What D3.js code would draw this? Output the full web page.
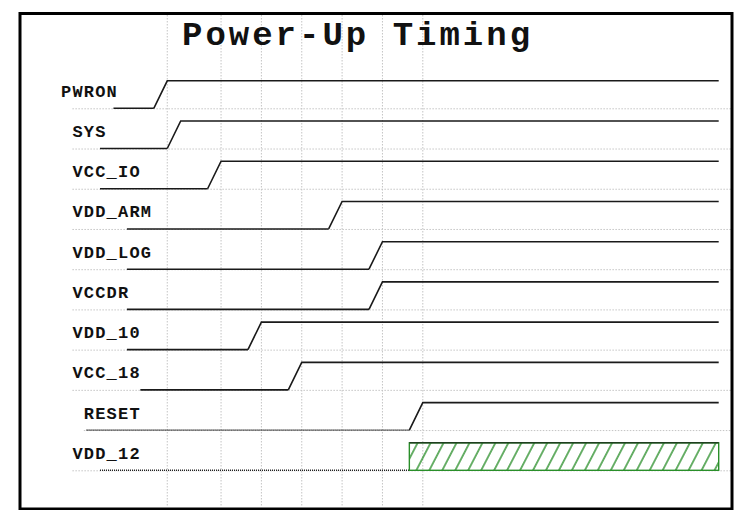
<!DOCTYPE html>
<html>
<head>
<meta charset="utf-8">
<script src="https://cdn.jsdelivr.net/npm/d3@7"></script>
<style>
  html, body { margin: 0; padding: 0; background: #fff; }
  svg { display: block; }
  text { white-space: pre; }
</style>
</head>
<body>
<div id="chart"></div>
<script>
// ---- data ----
const title = "Power-Up Timing";
const labels = ["PWRON", " SYS", " VCC_IO", " VDD_ARM", " VDD_LOG", " VCCDR", " VDD_10", " VCC_18", "  RESET", " VDD_12"];
const lowStart  = [1, 0, 0, 2, 2, 2, 2, 3, -1, 0];
const riseStart = [4, 5, 8, 17, 20, 20, 11, 14, 23, 23];
const riseEnd   = [5, 6, 9, 18, 21, 21, 12, 15, 24, 23];
const lowDefined = [true, true, true, true, true, true, true, true, false, false];
const highKnown  = [true, true, true, true, true, true, true, true, true, false];
const endTime = 46;
const gridTimes = [5, 9, 12, 15, 18, 21, 24];

// ---- layout ----
const W = 742, H = 510;
const svg = d3.select("#chart").append("svg").attr("width", W).attr("height", H);

const x = d3.scaleLinear().domain([0, endTime]).range([100, 718.7]);
const y = d3.scalePoint().domain(d3.range(labels.length)).range([108.3, 470.3]);
const lvl = d3.scaleLinear().domain([0, 1]).range([0, -27.5]);

const labelX = 61, labelFs = 17, labelLs = 1.2;
const adv = 0.6 * labelFs + labelLs;
const gridRight = 731;
const fontFam = "'Courier New', 'Liberation Mono', monospace";

const defs = svg.append("defs");
const pat = defs.append("pattern")
  .attr("id", "hatch")
  .attr("patternUnits", "userSpaceOnUse")
  .attr("width", 11.5).attr("height", 10)
  .attr("patternTransform", "translate(410,470) rotate(27.5)");
pat.append("line").attr("x1", 5.75).attr("y1", -2).attr("x2", 5.75).attr("y2", 12)
  .attr("stroke", "#2a8f2a").attr("stroke-width", 1.4);

// vertical grid
svg.append("g").selectAll("line").data(gridTimes).join("line")
  .attr("x1", d => x(d)).attr("x2", d => x(d))
  .attr("y1", 15).attr("y2", 507)
  .attr("stroke", "#c4c4c4").attr("stroke-width", 1)
  .attr("stroke-dasharray", "1.5,1.5");

// horizontal grid (row baselines)
svg.append("g").selectAll("line").data(labels).join("line")
  .attr("x1", (d) => labelX + Math.max(d.length - d.trimStart().length, 1) * adv)
  .attr("x2", gridRight)
  .attr("y1", (d, i) => y(i) + 0.5).attr("y2", (d, i) => y(i) + 0.5)
  .attr("stroke", "#c4c4c4").attr("stroke-width", 1)
  .attr("stroke-dasharray", "1.5,1.5");

// labels
svg.append("g").selectAll("text").data(labels).join("text")
  .attr("x", labelX)
  .attr("y", (d, i) => y(i) - 11.5)
  .attr("font-family", fontFam)
  .attr("font-weight", "bold")
  .attr("font-size", labelFs)
  .attr("letter-spacing", labelLs)
  .attr("fill", "#111")
  .text(d => d);

// signals
const sig = svg.append("g");
labels.forEach((name, i) => {
  const y0 = y(i) + lvl(0), y1 = y(i) + lvl(1);
  // low segment
  sig.append("line")
    .attr("x1", x(lowStart[i])).attr("x2", x(riseStart[i]))
    .attr("y1", y0).attr("y2", y0)
    .attr("stroke", lowDefined[i] ? "#1a1a1a" : "#222")
    .attr("stroke-width", 1.6)
    .attr("stroke-dasharray", lowDefined[i] ? null : "1,1");
  if (highKnown[i]) {
    const p = d3.path();
    p.moveTo(x(riseStart[i]), y0);
    p.lineTo(x(riseEnd[i]), y1);
    p.lineTo(x(endTime), y1);
    sig.append("path").attr("d", p.toString())
      .attr("fill", "none").attr("stroke", "#1a1a1a").attr("stroke-width", 1.6);
  } else {
    sig.append("rect")
      .attr("x", x(riseEnd[i])).attr("y", y1)
      .attr("width", x(endTime) - x(riseEnd[i])).attr("height", y0 - y1)
      .attr("fill", "url(#hatch)")
      .attr("stroke", "#2a8f2a").attr("stroke-width", 1.4);
    sig.append("line")
      .attr("x1", x(riseEnd[i])).attr("x2", x(endTime))
      .attr("y1", y1).attr("y2", y1)
      .attr("stroke", "#1f3f1f").attr("stroke-width", 1.4);
  }
});

// title
svg.append("text")
  .attr("x", 182).attr("y", 45)
  .attr("font-family", fontFam)
  .attr("font-weight", "bold")
  .attr("font-size", 34)
  .attr("letter-spacing", 3)
  .attr("fill", "#111")
  .text(title);

// frame
svg.append("rect")
  .attr("x", 20).attr("y", 13.5)
  .attr("width", 712).attr("height", 495.5)
  .attr("fill", "none").attr("stroke", "#000").attr("stroke-width", 3);
</script>
</body>
</html>
